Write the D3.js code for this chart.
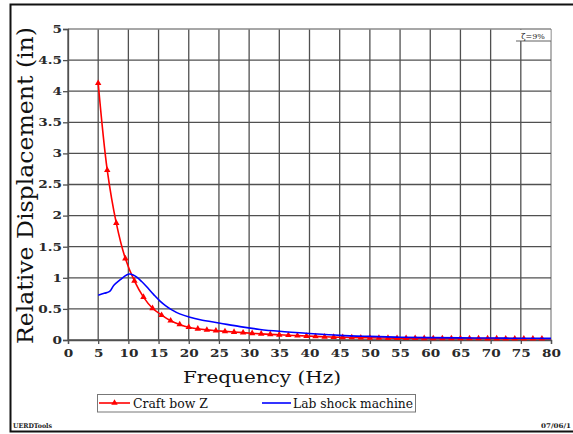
<!DOCTYPE html>
<html>
<head>
<meta charset="utf-8">
<script src="https://cdn.jsdelivr.net/npm/d3@7/dist/d3.min.js"></script>
<style>
  html, body { margin: 0; padding: 0; background: #fff; }
  svg { display: block; }
  text { font-family: "DejaVu Serif", "Liberation Serif", serif; }
</style>
</head>
<body>
<svg id="chart" width="573" height="434"></svg>
<script>
// Response curves: relative displacement vs frequency (damping 9%)
const craftFreq = [5.0, 6.5, 8.0, 9.5, 11.0, 12.5, 14.0, 15.5, 17.0, 18.5,
  20.0, 21.5, 23.0, 24.5, 26.0, 27.5, 29.0, 30.5, 32.0, 33.5,
  35.0, 36.5, 38.0, 39.5, 41.0, 42.5, 44.0, 45.5, 47.0, 48.5,
  50.0, 51.5, 53.0, 54.5, 56.0, 57.5, 59.0, 60.5, 62.0, 63.5,
  65.0, 66.5, 68.0, 69.5, 71.0, 72.5, 74.0, 75.5, 77.0, 78.5];
const craftDisp = [4.13, 2.73, 1.88, 1.31, 0.95, 0.69, 0.51, 0.40, 0.31, 0.25,
  0.205, 0.18, 0.163, 0.15, 0.138, 0.128, 0.118, 0.108, 0.099, 0.091,
  0.084, 0.077, 0.07, 0.064, 0.058, 0.052, 0.047, 0.043, 0.04, 0.037,
  0.035, 0.033, 0.031, 0.03, 0.029, 0.028, 0.027, 0.026, 0.026, 0.025,
  0.025, 0.024, 0.024, 0.023, 0.023, 0.022, 0.022, 0.021, 0.021, 0.02];

const labFreq = [5.0, 6.0, 6.9, 7.6, 8.6, 9.7, 10.2, 10.8, 11.4, 12.2,
  13.0, 14.2, 15.2, 16.2, 17.2, 18.5, 20.2, 21.9, 25.2, 28.5,
  31.8, 35.0, 40.0, 45.0, 50.0, 55.0, 60.0, 65.0, 70.0, 75.0, 80.0];
const labDisp = [0.72, 0.75, 0.78, 0.88, 0.965, 1.045, 1.06, 1.045, 1.01, 0.94,
  0.86, 0.73, 0.63, 0.55, 0.485, 0.42, 0.365, 0.325, 0.27, 0.215,
  0.17, 0.14, 0.105, 0.075, 0.058, 0.045, 0.038, 0.034, 0.031, 0.028, 0.026];

const xTickValues = [0, 5, 10, 15, 20, 25, 30, 35, 40, 45, 50, 55, 60, 65, 70, 75, 80];
const yTickValues = [0, 0.5, 1, 1.5, 2, 2.5, 3, 3.5, 4, 4.5, 5];
const yTickLabels = ["0", "0.5", "1", "1.5", "2", "2.5", "3", "3.5", "4", "4.5", "5"];

const seriesNames = ["Craft bow Z", "Lab shock machine"];
const seriesColors = ["#ff0000", "#0000ff"];

const svg = d3.select("#chart");
const m = { left: 68, right: 551, top: 29, bottom: 340 };

const x = d3.scaleLinear().domain([0, 80]).range([m.left, m.right]);
const y = d3.scaleLinear().domain([0, 5]).range([m.bottom, m.top]);

// outer frame
svg.append("rect")
  .attr("x", 10.5).attr("y", 4.5).attr("width", 580).attr("height", 427)
  .attr("fill", "none").attr("stroke", "#111").attr("stroke-width", 2);

// grid
const grid = svg.append("g");
grid.selectAll("line.v").data(xTickValues).join("line")
  .attr("x1", d => x(d)).attr("x2", d => x(d))
  .attr("y1", y(5)).attr("y2", y(0))
  .attr("stroke", d => d === 80 ? "#8a8a8a" : "#505050").attr("stroke-width", 1.3);
grid.selectAll("line.h").data(yTickValues).join("line")
  .attr("x1", x(0)).attr("x2", x(80))
  .attr("y1", d => y(d)).attr("y2", d => y(d))
  .attr("stroke", d => d === 5 ? "#8a8a8a" : "#505050").attr("stroke-width", 1.3);

// axes
const stretch = 1.3;
const xAxis = svg.append("g").attr("transform", `translate(0,${y(0)})`)
  .call(d3.axisBottom(x).tickValues(xTickValues).tickSize(4).tickPadding(6));
const yAxis = svg.append("g").attr("transform", `translate(${x(0)},0)`)
  .call(d3.axisLeft(y).tickValues(yTickValues).tickFormat((d, i) => yTickLabels[i]).tickSize(5).tickPadding(1));
[xAxis, yAxis].forEach(g => {
  g.select(".domain").attr("stroke", "#505050").attr("stroke-width", 1.3);
  g.selectAll(".tick line").attr("stroke", "#505050").attr("stroke-width", 1.3);
  g.selectAll(".tick text")
    .attr("font-family", "DejaVu Serif").attr("font-size", 10.5)
    .attr("fill", "#2a2a2a").attr("font-weight", "bold");
});
// widen tick labels horizontally
xAxis.selectAll(".tick text").each(function () {
  const t = d3.select(this);
  const yy = +t.attr("y");
  t.attr("y", null).attr("dy", "0.71em")
    .attr("transform", `translate(0,${yy}) scale(${stretch},1)`);
});
yAxis.selectAll(".tick text").each(function () {
  const t = d3.select(this);
  const xx = +t.attr("x");
  t.attr("x", null).attr("transform", `translate(${xx},0) scale(${stretch},1)`);
});

// series lines
const line = d3.line().x(d => x(d[0])).y(d => y(d[1])).curve(d3.curveCatmullRom.alpha(0.5));
const labData = labFreq.map((f, i) => [f, labDisp[i]]);
const craftData = craftFreq.map((f, i) => [f, craftDisp[i]]);
craftData.push([80, 0.02]);

svg.append("path").datum(craftData).attr("d", line)
  .attr("fill", "none").attr("stroke", seriesColors[0]).attr("stroke-width", 1.6);
svg.append("g").selectAll("path").data(craftData.slice(0, craftFreq.length)).join("path")
  .attr("d", d3.symbol(d3.symbolTriangle, 18))
  .attr("transform", d => `translate(${x(d[0])},${y(d[1])})`)
  .attr("fill", seriesColors[0]);
svg.append("path").datum(labData).attr("d", line)
  .attr("fill", "none").attr("stroke", seriesColors[1]).attr("stroke-width", 1.6);

// damping note in the top-right cell
svg.append("rect").attr("x", 516).attr("y", 30).attr("width", 34.5).attr("height", 11)
  .attr("fill", "#fff");
svg.append("line").attr("x1", 516).attr("x2", x(80)).attr("y1", 41).attr("y2", 41)
  .attr("stroke", "#606060").attr("stroke-width", 1);
svg.append("text").attr("x", 533).attr("y", 39).attr("text-anchor", "middle")
  .attr("font-family", "Liberation Sans").attr("font-size", 8).attr("fill", "#222")
  .text("ζ=9%");

// axis titles
svg.append("text")
  .attr("transform", `translate(33,${(m.top + m.bottom) / 2 + 1}) rotate(-90)`)
  .attr("text-anchor", "middle").attr("font-size", 22).attr("fill", "#111")
  .attr("textLength", 317).attr("lengthAdjust", "spacingAndGlyphs")
  .text("Relative Displacement (in)");
svg.append("text")
  .attr("x", 262).attr("y", 382.5).attr("text-anchor", "middle")
  .attr("font-size", 16.5).attr("fill", "#111")
  .attr("textLength", 158).attr("lengthAdjust", "spacingAndGlyphs")
  .text("Frequency (Hz)");

// legend
const lg = svg.append("g");
lg.append("rect").attr("x", 97.5).attr("y", 394.5).attr("width", 318).attr("height", 17.5)
  .attr("fill", "#fff").attr("stroke", "#777").attr("stroke-width", 1);
const legendItems = [
  { x0: 99, x1: 130, tx: 133, w: 75, marker: true },
  { x0: 262, x1: 291, tx: 293, w: 120, marker: false }
];
legendItems.forEach((it, i) => {
  lg.append("line").attr("x1", it.x0).attr("x2", it.x1).attr("y1", 403).attr("y2", 403)
    .attr("stroke", seriesColors[i]).attr("stroke-width", 1.6);
  if (it.marker) {
    lg.append("path").attr("d", d3.symbol(d3.symbolTriangle, 18))
      .attr("transform", `translate(${(it.x0 + it.x1) / 2},403)`).attr("fill", seriesColors[i]);
  }
  lg.append("text").attr("x", it.tx).attr("y", 407.5).attr("font-size", 12.5).attr("fill", "#111")
    .attr("textLength", it.w).attr("lengthAdjust", "spacingAndGlyphs")
    .text(seriesNames[i]);
});

// footer
svg.append("text").attr("x", 13).attr("y", 428).attr("font-size", 6.5).attr("font-weight", "bold")
  .attr("fill", "#222").attr("textLength", 39).attr("lengthAdjust", "spacingAndGlyphs")
  .text("UERDTools");
svg.append("text").attr("x", 541).attr("y", 428).attr("font-size", 6.5).attr("font-weight", "bold")
  .attr("fill", "#222").attr("textLength", 30).attr("lengthAdjust", "spacingAndGlyphs")
  .text("07/06/1");
</script>
</body>
</html>
